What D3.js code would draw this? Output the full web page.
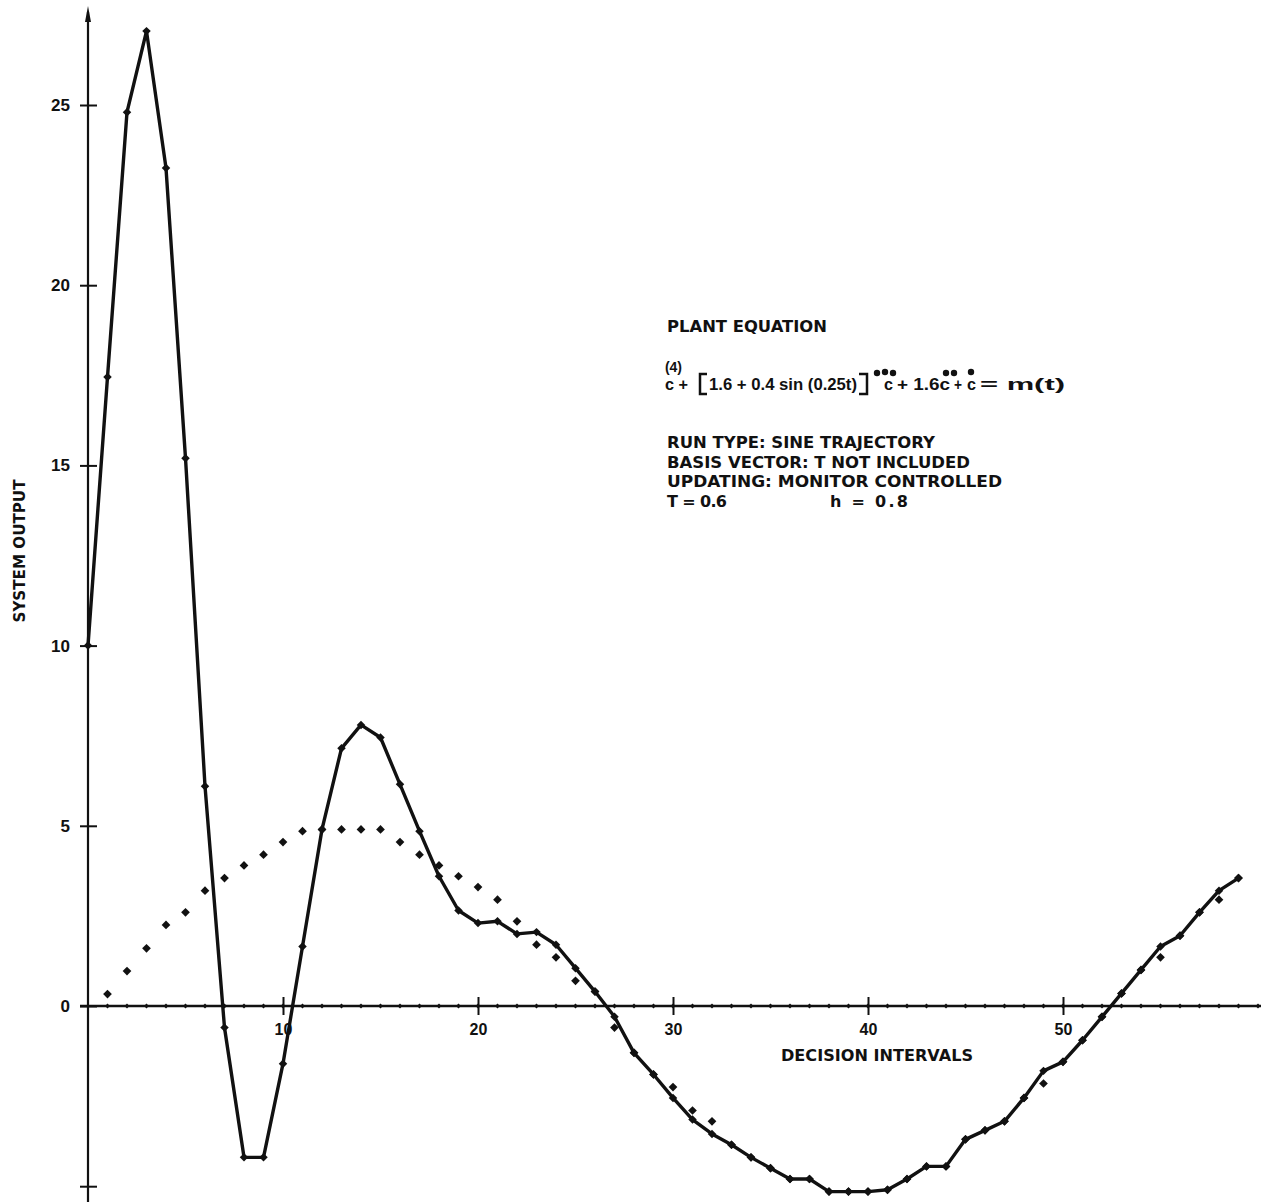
<!DOCTYPE html>
<html>
<head>
<meta charset="utf-8">
<script src="https://cdn.jsdelivr.net/npm/d3@7"></script>
<style>
  body { margin: 0; background: #fff; }
  text { font-family: "Liberation Sans", Arial, sans-serif; font-weight: bold; fill: #111; }
  .note { font-family: "DejaVu Sans", sans-serif; }
</style>
</head>
<body>
<div class="chart"></div>
<script>

// system output at decision interval 0, 1, 2, ...
var systemOutput = [
  10.0, 17.45, 24.8, 27.05, 23.25, 15.2, 6.1, -0.6, -4.2, -4.2,
  -1.6, 1.65, 4.9, 7.15, 7.8, 7.45, 6.15, 4.85, 3.6, 2.65,
  2.3, 2.35, 2.0, 2.05, 1.7, 1.05, 0.4, -0.3, -1.3, -1.9,
  -2.55, -3.15, -3.55, -3.85, -4.2, -4.5, -4.8, -4.8, -5.15, -5.15,
  -5.15, -5.1, -4.8, -4.45, -4.45, -3.7, -3.45, -3.2, -2.55, -1.8,
  -1.55, -0.95, -0.3, 0.35, 1.0, 1.65, 1.95, 2.6, 3.2, 3.55
];

// sine trajectory (dotted), starting at decision interval 1
var trajectoryStart = 1;
var trajectory = [
  0.33, 0.97, 1.6, 2.25, 2.6, 3.2, 3.55, 3.9, 4.2,
  4.55, 4.85, 4.9, 4.9, 4.9, 4.9, 4.55, 4.2, 3.9, 3.6,
  3.3, 2.95, 2.35, 1.7, 1.35, 0.7, 0.4, -0.6, -1.3, -1.9,
  -2.25, -2.9, -3.2, -3.85, -4.2, -4.5, -4.8, -4.8, -5.15, -5.15,
  -5.15, -5.1, -4.8, -4.45, -4.45, -3.7, -3.45, -3.2, -2.55, -2.15,
  -1.55, -0.95, -0.3, 0.35, 1.0, 1.35, 1.95, 2.6, 2.95, 3.55
];

var xTicks = [10, 20, 30, 40, 50];
var yTicks = [-5, 0, 5, 10, 15, 20, 25];
var axisDots = d3.range(1, 61);

var infoLines = [
  { text: "PLANT EQUATION", x: 667, y: 332, len: 160, adj: "spacingAndGlyphs" },
  { text: "RUN TYPE:  SINE TRAJECTORY", x: 667, y: 448, len: 268, adj: "spacingAndGlyphs" },
  { text: "BASIS VECTOR:  T NOT INCLUDED", x: 667, y: 468, len: 303, adj: "spacingAndGlyphs" },
  { text: "UPDATING:  MONITOR CONTROLLED", x: 667, y: 487, len: 335, adj: "spacingAndGlyphs" },
  { text: "T = 0.6", x: 667, y: 507, len: 60, adj: "spacing" },
  { text: "h = 0.8", x: 830, y: 507, len: 78, adj: "spacing" }
];

var svgWidth = 1261;
var svgHeight = 1202;

var svg = d3.select(".chart")
  .append("svg")
  .attr("width", svgWidth)
  .attr("height", svgHeight);

var xScale = d3.scaleLinear().domain([0, 10]).range([88, 283]);
var yScale = d3.scaleLinear().domain([0, 25]).range([1006, 105]);

// y axis: crossing ticks, bold labels
var yAxis = d3.axisLeft(yScale)
  .tickValues(yTicks)
  .tickSize(8)
  .tickPadding(10)
  .tickFormat(d => d < 0 ? "" : d);

var yAxisG = svg.append("g")
  .attr("transform", `translate(${xScale(0)},0)`)
  .call(yAxis);
yAxisG.select(".domain").remove();
yAxisG.selectAll(".tick line").attr("x1", 9).attr("stroke", "#111").attr("stroke-width", 2);
yAxisG.selectAll(".tick text").style("font-size", "17px").attr("fill", "#111");

svg.append("line")
  .attr("x1", xScale(0)).attr("x2", xScale(0))
  .attr("y1", 12).attr("y2", svgHeight)
  .attr("stroke", "#111").attr("stroke-width", 2.2);

svg.append("path")
  .attr("d", `M${xScale(0)},6 L${xScale(0) - 3},22 L${xScale(0) + 3},22 Z`)
  .attr("fill", "#111");

// x axis along zero
var xAxis = d3.axisBottom(xScale)
  .tickValues(xTicks)
  .tickSize(9)
  .tickPadding(9)
  .tickFormat(d3.format("d"));

var xAxisG = svg.append("g")
  .attr("transform", `translate(0,${yScale(0)})`)
  .call(xAxis);
xAxisG.select(".domain").remove();
xAxisG.selectAll(".tick line").attr("y1", -9).attr("stroke", "#111").attr("stroke-width", 2);
xAxisG.selectAll(".tick text").style("font-size", "16px").attr("fill", "#111");

svg.append("line")
  .attr("x1", 80).attr("x2", svgWidth)
  .attr("y1", yScale(0)).attr("y2", yScale(0))
  .attr("stroke", "#111").attr("stroke-width", 2.5);

svg.append("g").selectAll("path")
  .data(axisDots)
  .enter()
  .append("path")
  .attr("d", d3.symbol().type(d3.symbolSquare).size(12))
  .attr("transform", d => `translate(${xScale(d)},${yScale(0)}) rotate(45)`)
  .attr("fill", "#111");

// system output curve
var line = d3.line()
  .x((d, i) => xScale(i))
  .y(d => yScale(d));

svg.append("path")
  .datum(systemOutput)
  .attr("d", line)
  .attr("fill", "none")
  .attr("stroke", "#111")
  .attr("stroke-width", 3.4)
  .attr("stroke-linejoin", "round");

svg.append("g").selectAll("path")
  .data(systemOutput)
  .enter()
  .append("path")
  .attr("d", d3.symbol().type(d3.symbolSquare).size(36))
  .attr("transform", (d, i) => `translate(${xScale(i)},${yScale(d)}) rotate(45)`)
  .attr("fill", "#111");

// sine trajectory dots
svg.append("g").selectAll("path")
  .data(trajectory)
  .enter()
  .append("path")
  .attr("d", d3.symbol().type(d3.symbolSquare).size(38))
  .attr("transform", (d, i) => `translate(${xScale(i + trajectoryStart)},${yScale(d)}) rotate(45)`)
  .attr("fill", "#111");

// axis titles
svg.append("text")
  .attr("class", "note")
  .attr("text-anchor", "middle")
  .attr("transform", "translate(25,551)rotate(-90)")
  .attr("textLength", 143)
  .attr("lengthAdjust", "spacingAndGlyphs")
  .style("font-size", "15px")
  .text("SYSTEM OUTPUT");

svg.append("text")
  .attr("class", "note")
  .attr("x", 781)
  .attr("y", 1061)
  .attr("textLength", 192)
  .attr("lengthAdjust", "spacingAndGlyphs")
  .style("font-size", "15px")
  .text("DECISION INTERVALS");

// plant equation note
svg.append("g").selectAll("text")
  .data(infoLines)
  .enter()
  .append("text")
  .attr("class", "note")
  .attr("x", d => d.x)
  .attr("y", d => d.y)
  .attr("textLength", d => d.len)
  .attr("lengthAdjust", d => d.adj)
  .style("font-size", "16px")
  .text(d => d.text);

svg.append("text").attr("x", 665).attr("y", 372).attr("textLength", 17)
  .style("font-size", "14px").text("(4)");

var eqParts = [
  { text: "c +", x: 665, len: 23 },
  { text: "1.6 + 0.4 sin (0.25t)", x: 709, len: 148 },
  { text: "c", x: 884, len: 9 },
  { text: "+ 1.6c", x: 897, len: 53 },
  { text: "+", x: 954, len: 8 },
  { text: "c", x: 967, len: 9 },
  { text: "= m(t)", x: 980, len: 85 }
];

svg.append("g").selectAll("text")
  .data(eqParts)
  .enter()
  .append("text")
  .attr("x", d => d.x)
  .attr("y", 390)
  .attr("textLength", d => d.len)
  .attr("lengthAdjust", "spacingAndGlyphs")
  .style("font-size", "16px")
  .text(d => d.text);

svg.append("path")
  .attr("d", "M707,374 H700 V394 H707 M859,374 H867 V394 H859")
  .attr("fill", "none")
  .attr("stroke", "#111")
  .attr("stroke-width", 2.5);

var eqDots = [[877, 373], [885, 372], [893, 373], [946, 373], [954, 373], [971, 372]];
svg.append("g").selectAll("circle")
  .data(eqDots)
  .enter()
  .append("circle")
  .attr("cx", d => d[0])
  .attr("cy", d => d[1])
  .attr("r", 3.2)
  .attr("fill", "#111");

</script>
</body>
</html>
